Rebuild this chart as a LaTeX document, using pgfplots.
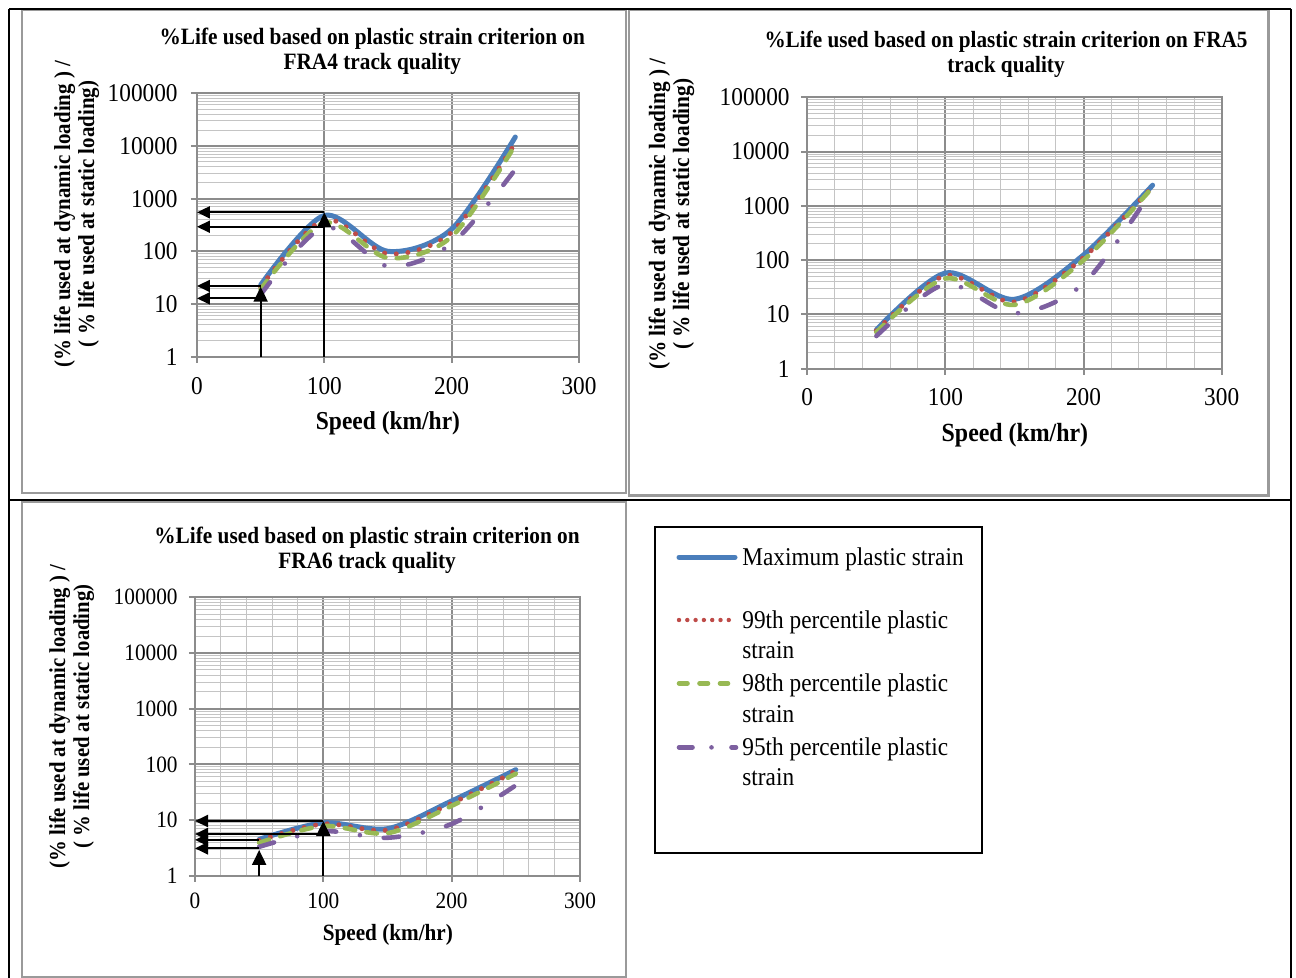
\documentclass[border=0pt]{standalone}
\usepackage{fontspec}
\setmainfont{Liberation Serif}[FakeStretch=0.91]
\usepackage{pgfplots}
\pgfplotsset{compat=1.18}
\usepackage{pgfplotstable}
\usetikzlibrary{arrows.meta}

\definecolor{cBlue}{HTML}{4A7EBB}
\definecolor{cRed}{HTML}{BE4B48}
\definecolor{cGreen}{HTML}{98B954}
\definecolor{cPurple}{HTML}{7D60A0}
\definecolor{gMajor}{HTML}{8C8C8C}
\definecolor{gMinor}{HTML}{C4C4C4}
\definecolor{gFrame}{HTML}{9A9A9A}

% FRA4
\pgfplotstableread{
x max p99 p98 p95
50 23 21 19 15
100 480 400 350 290
150 100 90 75 52
200 265 230 190 140
250 14800 11500 10500 3600
}\dataA
% FRA5
\pgfplotstableread{
x max p99 p98 p95
50 5.2 5.0 4.7 4.0
100 58 52 46 36
150 19 17 15 10.5
200 125 112 100 37
250 2400 2250 2200 2000
}\dataB
% FRA6
\pgfplotstableread{
x max p99 p98 p95
50 4.5 4.3 3.9 3.3
100 8.9 8.5 7.8 6.3
150 7.0 6.6 5.8 4.8
200 22 20 18 8.5
250 80 76 68 42
}\dataC

\tikzset{
  sMax/.style={cBlue, line width=2.5pt, smooth, tension=0.5, line cap=round, line join=round},
  sP99/.style={cRed, line width=2.5pt, smooth, tension=0.5, line cap=round, dash pattern=on 0pt off 5.85pt},
  sP98/.style={cGreen, line width=2.3pt, smooth, tension=0.5, line cap=round, dash pattern=on 5.25pt off 5.75pt},
  sP95/.style={cPurple, line width=2.3pt, smooth, tension=0.5, line cap=round, dash pattern=on 7.75pt off 12pt on 0pt off 12pt},
  arrV/.style={black, line width=1pt, -{Triangle[width=7pt,length=7.5pt]}},
  arrH/.style={black, line width=1pt, -{Triangle[width=6pt,length=6.5pt]}},
}

\pgfplotsset{
  lifeaxis/.style={
    scale only axis, xmin=0, xmax=300, ymin=1, ymax=100000,
    clip=false,
    xtick={0,100,200,300},
    ytick={1,10,100,1000,10000,100000},
    yticklabels={1,10,100,1000,10000,100000},
    minor ytick={2,3,4,5,6,7,8,9,20,30,40,50,60,70,80,90,200,300,400,500,600,700,800,900,2000,3000,4000,5000,6000,7000,8000,9000,20000,30000,40000,50000,60000,70000,80000,90000},
    grid=both,
    major grid style={gMajor, line width=1pt},
    minor grid style={gMinor, line width=0.5pt},
    tick align=outside, tick pos=left,
    major tick length=3pt, minor tick length=0pt,
    tick style={gMajor, line width=1pt},
    axis line style={gMajor, line width=1pt},
    xlabel={Speed (km/hr)},
    ylabel={(\% life used at dynamic loading ) /\\( \% life used at static loading)},
  },
}

\begin{document}
\begin{tikzpicture}
\useasboundingbox (0pt,0pt) rectangle (648pt,-489pt);

% chart frames
\draw[gFrame, line width=1.1pt] (11pt,-5pt) rectangle (312.85pt,-246.5pt);
\draw[gFrame, line width=1.1pt] (314.65pt,-5pt) rectangle (634.25pt,-247.75pt);
\draw[gFrame, line width=1.1pt] (11pt,-251pt) rectangle (312.85pt,-488.5pt);

% ---------- Chart 1: FRA4 ----------
\begin{axis}[ymode=log, lifeaxis,
  /pgf/number format/assume math mode=true,
  at={(98.5pt,-178.35pt)}, anchor=south west,
  width=191pt, height=131.7pt,
  minor xtick={},
  ticklabel style={font=\fontsize{12.8}{14}\selectfont},
  yticklabel style={anchor=east, inner sep=0pt, xshift=-6.5pt},
  xticklabel style={anchor=north, inner sep=0pt, yshift=-7pt},
  title={\%Life used based on plastic strain criterion on\\FRA4 track quality},
  title style={align=center, anchor=center, font=\bfseries\fontsize{11.7}{12.5}\selectfont, at={(axis description cs:0.459,1.164)}, yshift=-6.5pt},
  xlabel style={anchor=center, font=\bfseries\fontsize{12.9}{14}\selectfont, at={(axis description cs:0.5,-0.251)}},
  ylabel style={align=center, anchor=center, font=\bfseries\fontsize{11.5}{12}\selectfont, at={(axis description cs:-0.3154,0.542)}},
]
\addplot[sMax] table[x=x, y=max] {\dataA};
\addplot[sP99] table[x=x, y=p99] {\dataA};
\addplot[sP98] table[x=x, y=p98] {\dataA};
\addplot[sP95] table[x=x, y=p95] {\dataA};
\draw[arrV] (axis cs:50,1) -- (axis cs:50,21.3);
\draw[arrV] (axis cs:100,1) -- (axis cs:100,550);
\draw[arrH] (axis cs:100,550) -- (axis cs:0,550);
\draw[arrH] (axis cs:100,293) -- (axis cs:0,293);
\draw[arrH] (axis cs:50,22) -- (axis cs:0,22);
\draw[arrH] (axis cs:50,12.8) -- (axis cs:0,12.8);
\end{axis}

% ---------- Chart 2: FRA5 ----------
\begin{axis}[ymode=log, lifeaxis,
  /pgf/number format/assume math mode=true,
  at={(403.65pt,-184.35pt)}, anchor=south west,
  width=207.2pt, height=135.7pt,
  minor xtick={20,40,60,80,120,140,160,180,220,240,260,280},
  ticklabel style={font=\fontsize{12.8}{14}\selectfont},
  yticklabel style={anchor=east, inner sep=0pt, xshift=-5.65pt},
  xticklabel style={anchor=north, inner sep=0pt, yshift=-6.5pt},
  title={\%Life used based on plastic strain criterion on FRA5\\track quality},
  title style={align=center, anchor=center, font=\bfseries\fontsize{11.65}{12.5}\selectfont, at={(axis description cs:0.4795,1.163)}, yshift=-6.5pt},
  xlabel style={anchor=center, font=\bfseries\fontsize{13.1}{14}\selectfont, at={(axis description cs:0.501,-0.244)}},
  ylabel style={align=center, anchor=center, font=\bfseries\fontsize{11.7}{12}\selectfont, at={(axis description cs:-0.3277,0.570)}},
]
\addplot[sMax] table[x=x, y=max] {\dataB};
\addplot[sP99] table[x=x, y=p99] {\dataB};
\addplot[sP98] table[x=x, y=p98] {\dataB};
\addplot[sP95] table[x=x, y=p95] {\dataB};
\end{axis}

% ---------- Chart 3: FRA6 ----------
\begin{axis}[ymode=log, lifeaxis,
  /pgf/number format/assume math mode=true,
  at={(97.5pt,-437.85pt)}, anchor=south west,
  width=192.5pt, height=139.2pt,
  minor xtick={20,40,60,80,120,140,160,180,220,240,260,280},
  ticklabel style={font=\fontsize{11.7}{13}\selectfont},
  yticklabel style={anchor=east, inner sep=0pt, xshift=-5.5pt},
  xticklabel style={anchor=north, inner sep=0pt, yshift=-5.5pt},
  title={\%Life used based on plastic strain criterion on\\FRA6 track quality},
  title style={align=center, anchor=center, font=\bfseries\fontsize{11.7}{12.5}\selectfont, at={(axis description cs:0.447,1.173)}, yshift=-6.5pt},
  xlabel style={anchor=center, font=\bfseries\fontsize{11.65}{13}\selectfont, at={(axis description cs:0.501,-0.213)}},
  ylabel style={align=center, anchor=center, font=\bfseries\fontsize{11.4}{12}\selectfont, at={(axis description cs:-0.3208,0.572)}},
]
\addplot[sMax] table[x=x, y=max] {\dataC};
\addplot[sP99] table[x=x, y=p99] {\dataC};
\addplot[sP98] table[x=x, y=p98] {\dataC};
\addplot[sP95] table[x=x, y=p95] {\dataC};
\draw[arrV] (axis cs:50,1) -- (axis cs:50,2.9);
\draw[arrV] (axis cs:100,1) -- (axis cs:100,9.6);
\draw[arrH] (axis cs:100,9.6) -- (axis cs:0,9.6);
\draw[arrH] (axis cs:100,5.6) -- (axis cs:0,5.6);
\draw[arrH] (axis cs:50,4.4) -- (axis cs:0,4.4);
\draw[arrH] (axis cs:50,3.1) -- (axis cs:0,3.1);
\end{axis}

% ---------- Legend ----------
\draw[black, line width=1pt] (327.5pt,-263.5pt) rectangle (491pt,-426.5pt);
\draw[cBlue, line width=2.5pt, line cap=round] (339.5pt,-278.6pt) -- (367.5pt,-278.6pt);
\draw[cRed, line width=2.2pt, line cap=round, dash pattern=on 0pt off 4.15pt] (339.5pt,-310pt) -- (365pt,-310pt);
\draw[cGreen, line width=2.3pt, line cap=round, dash pattern=on 4.25pt off 6pt] (339.5pt,-341.7pt) -- (364pt,-341.7pt);
\draw[cPurple, line width=2.3pt, line cap=round, dash pattern=on 6.75pt off 9.5pt on 0pt off 10pt] (339.5pt,-373.7pt) -- (368pt,-373.7pt);
\begin{scope}[every node/.style={anchor=base west, inner sep=0pt, font=\fontsize{12.8}{15}\selectfont}]
\node at (371pt,-283pt) {Maximum plastic strain};
\node at (371pt,-314.15pt) {99th percentile plastic};
\node at (371pt,-329.15pt) {strain};
\node at (371pt,-345.85pt) {98th percentile plastic};
\node at (371pt,-361.15pt) {strain};
\node at (371pt,-377.5pt) {95th percentile plastic};
\node at (371pt,-392.85pt) {strain};
\end{scope}

% table rules
\draw[black, line width=1pt] (4.5pt,-4.5pt) -- (645.5pt,-4.5pt);
\draw[black, line width=1pt] (4.5pt,-4.5pt) -- (4.5pt,-489pt);
\draw[black, line width=1pt] (645.5pt,-4.5pt) -- (645.5pt,-489pt);
\draw[black, line width=1pt] (4.5pt,-250pt) -- (645.5pt,-250pt);
\end{tikzpicture}
\end{document}
